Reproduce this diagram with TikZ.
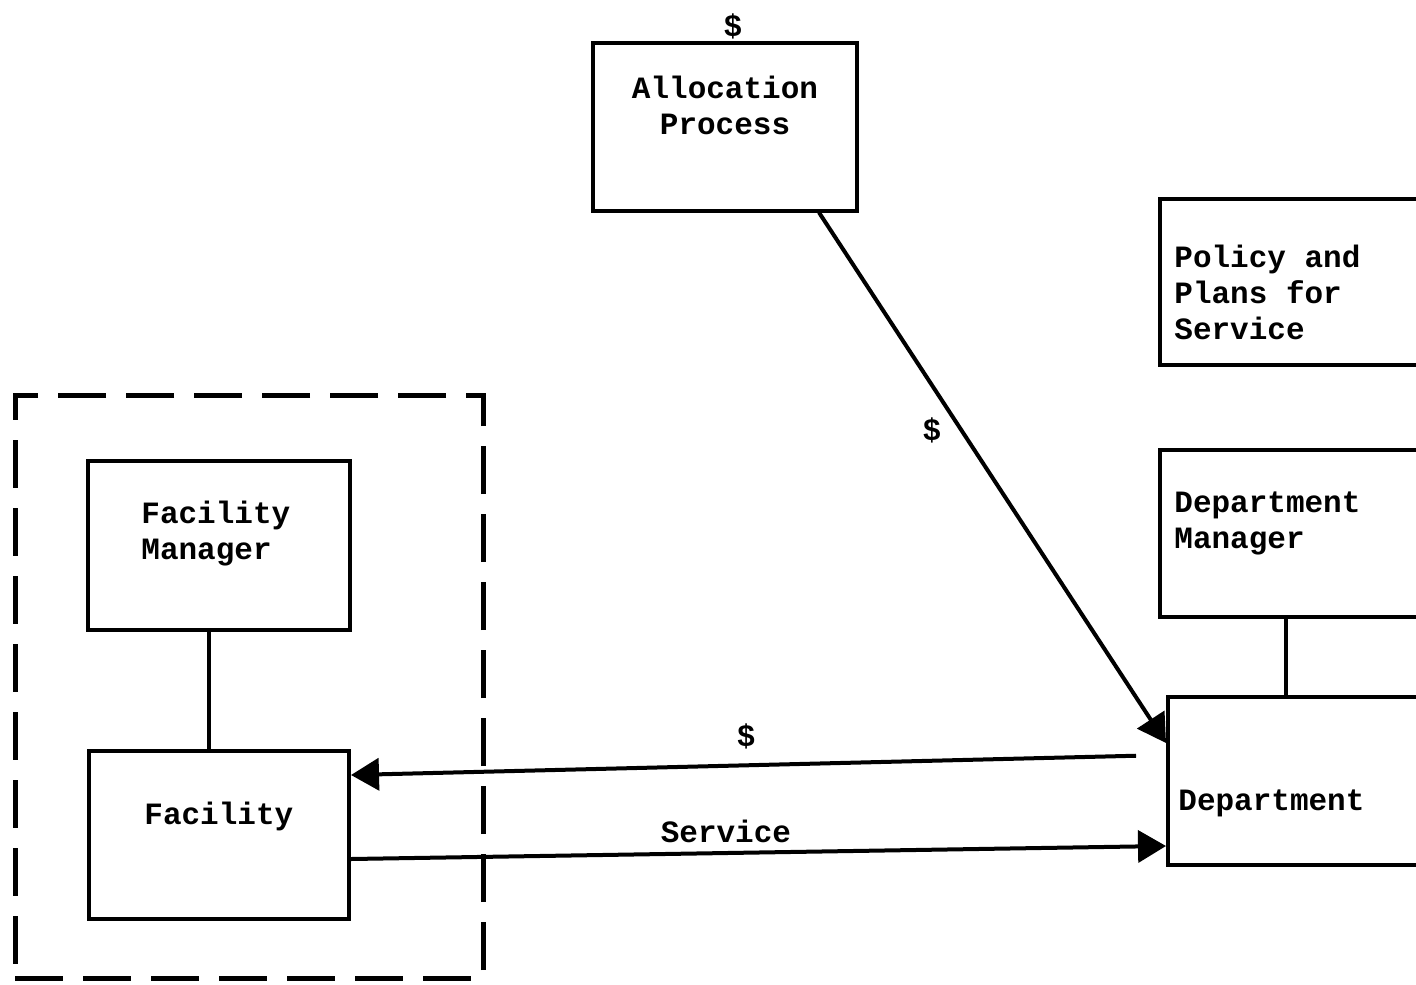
\documentclass[tikz,border=0pt]{standalone}
\usepackage{fontspec}
\setmonofont{Liberation Mono}
\usetikzlibrary{arrows.meta,positioning}

\begin{document}
\begin{tikzpicture}[x=0.5pt,y=-0.5pt,
    box/.style = {draw=black, line width=2pt, inner sep=0pt},
    lbl/.style = {font=\ttfamily\bfseries\fontsize{15.5}{18}\selectfont,
      inner sep=0pt, align=left},
    link/.style = {line width=2pt},
    flow/.style = {link, -{Triangle[length=14pt,width=16pt]}},
    node distance=0pt]
  \useasboundingbox (0,0) rectangle (1416,984);
  \clip (0,0) rectangle (1416,984);

  % allocation process
  \node [box, minimum width=132pt, minimum height=83.5pt] (alloc) at (725,127) {};
  \node [lbl, align=center, below=17pt of alloc.north] (alloctext) {Allocation\\Process};
  \node [lbl, above=1pt of alloc.north, xshift=4pt] (topfund) {\$};

  % department side (cut by the page edge)
  \node [box, minimum width=160pt, minimum height=83pt] (policy) at (1320,282) {};
  \node [lbl, below right=24pt and 8pt of policy.north west] (policytext) {Policy and\\Plans for\\Service};
  \node [box, minimum width=160pt, minimum height=83.5pt] (deptmgr) at (1320,533.5) {};
  \node [lbl, below right=21.5pt and 8pt of deptmgr.north west] (deptmgrtext) {Department\\Manager};
  \node [box, minimum width=156pt, minimum height=84pt] (dept) at (1324,781) {};
  \node [lbl, below right=47pt and 6pt of dept.north west] (depttext) {Department};

  % facility side
  \node [box, dash pattern=on 24pt off 10pt, line width=2.5pt,
    minimum width=234pt, minimum height=291.5pt] (facgroup) at (249,686.5) {};
  \node [box, minimum width=131pt, minimum height=84.5pt] (facmgr) at (219,545.5) {};
  \node [lbl, below right=21pt and 27.5pt of facmgr.north west] (facmgrtext) {Facility\\Manager};
  \node [box, minimum width=130pt, minimum height=84pt, below=58.5pt of facmgr] (fac) {};
  \node [lbl, below right=26.5pt and 28.5pt of fac.north west] (factext) {Facility};

  % connectors
  \draw [link] ([xshift=-5pt]facmgr.south) -- ([xshift=-5pt]fac.north);
  \draw [link] ([xshift=64pt]deptmgr.south west) -- ([xshift=64pt]deptmgr.south west |- dept.north);
  \draw [flow] ([xshift=-20pt]alloc.south east) -- node [lbl, pos=.41, left=9pt] (fundlbl) {\$}
    ([yshift=-24pt]dept.north west);
  \draw [flow, shorten <=15pt] ([yshift=-30pt]dept.north west) -- node [lbl, pos=.515, above=7pt] (paylbl) {\$}
    ([yshift=-13pt]fac.north east);
  \draw [flow] ([yshift=-55pt]fac.north east) -- node [lbl, pos=.46, above=4pt] (servlbl) {Service}
    ([yshift=-75.5pt]dept.north west);
\end{tikzpicture}
\end{document}
